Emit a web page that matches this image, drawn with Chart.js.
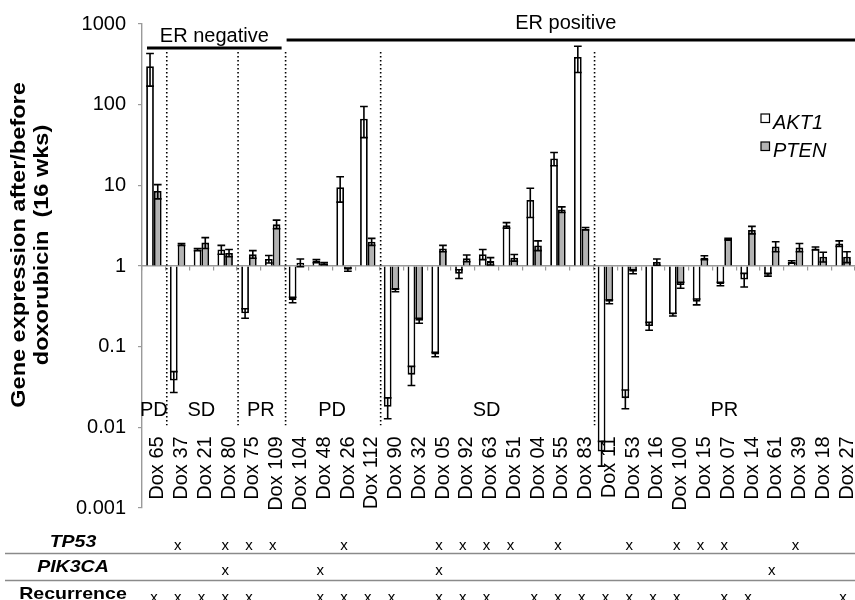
<!DOCTYPE html>
<html>
<head>
<meta charset="utf-8">
<script src="https://cdn.jsdelivr.net/npm/chart.js@4.4.1/dist/chart.umd.min.js"></script>
<style>
  html, body { margin: 0; padding: 0; background: #fff; }
  #wrap { width: 855px; height: 600px; position: relative; }
</style>
</head>
<body>
<div id="wrap"><canvas id="c" width="855" height="600"></canvas></div>
<script>
// Patients (tumour samples)
const categories = ['Dox 65','Dox 37','Dox 21','Dox 80','Dox 75','Dox 109','Dox 104','Dox 48','Dox 26','Dox 112',
  'Dox 90','Dox 32','Dox 05','Dox 92','Dox 63','Dox 51','Dox 04','Dox 55','Dox 83','Dox 11',
  'Dox 53','Dox 16','Dox 100','Dox 15','Dox 07','Dox 14','Dox 61','Dox 39','Dox 18','Dox 27'];

// Expression ratio after/before doxorubicin, with error
const akt1    = [300, 0.038, 1.6, 1.6, 0.26, 1.22, 0.38, 1.15, 9.5, 67, 0.018, 0.045, 0.08, 0.8, 1.4, 3.2, 6.6, 21.5, 390, 0.005,
  0.023, 0.18, 0.25, 0.36, 0.6, 0.68, 0.78, 1.12, 1.65, 1.9];
const akt1Err = [130, 0.011, 0.05, 0.2, 0.035, 0.13, 0.03, 0.05, 3.3, 28, 0.0052, 0.012, 0.005, 0.1, 0.2, 0.25, 2.6, 4, 140, 0.0017,
  0.006, 0.02, 0.01, 0.03, 0.03, 0.13, 0.03, 0.04, 0.07, 0.15];
const pten    = [8.5, 1.85, 1.95, 1.45, 1.4, 3.3, 1.1, 1.07, 0.9, 2.0, 0.5, 0.21, 1.65, 1.25, 1.15, 1.27, 1.8, 5.0, 2.9, 0.36,
  0.85, 1.12, 0.58, 1.27, 2.15, 2.8, 1.75, 1.7, 1.3, 1.3];
const ptenErr = [1.7, 0.05, 0.3, 0.15, 0.15, 0.4, 0.12, 0.03, 0.04, 0.2, 0.02, 0.015, 0.15, 0.12, 0.12, 0.12, 0.25, 0.4, 0.1, 0.02,
  0.05, 0.1, 0.05, 0.07, 0.05, 0.3, 0.25, 0.2, 0.18, 0.2];

// Value axis
const yTickValues = [1000, 100, 10, 1, 0.1, 0.01, 0.001];
const yTickLabels = ['1000', '100', '10', '1', '0.1', '0.01', '0.001'];
const yTitle = ['Gene expression after/before', 'doxorubicin  (16 wks)'];

// Clinical response groups (first/last sample index)
const responseLabels = ['PD', 'SD', 'PR', 'PD', 'SD', 'PR'];
const responseStart  = [0, 1, 4, 6, 10, 19];
const responseEnd    = [0, 3, 5, 9, 18, 29];

// Oestrogen receptor status
const erLabels = ['ER negative', 'ER positive'];
const erStart  = [0, 6];
const erEnd    = [5, 29];

// Mutation / outcome table (1 = present)
const rowLabels = ['TP53', 'PIK3CA', 'Recurrence'];
const tp53       = [0,1,0,1,1,1,0,0,1,0, 0,0,1,1,1,1,0,1,0,0, 1,0,1,1,1,0,0,1,0,0];
const pik3ca     = [0,0,0,1,0,0,0,1,0,0, 0,0,1,0,0,0,0,0,0,0, 0,0,0,0,0,0,1,0,0,0];
const recurrence = [1,1,1,1,1,0,0,1,1,1, 1,0,1,1,1,0,1,1,1,1, 1,1,1,0,1,1,0,0,0,1];

const FONT = '"Liberation Sans", Arial, Helvetica, sans-serif';
const GREY_AXIS = '#9a9a9a';

// Draws error bars, group annotations, category labels, legend, axis title and the table below the plot
const annotations = {
  id: 'annotations',
  afterDatasetsDraw(chart) {
    const { ctx } = chart;
    const y = chart.scales.y;
    chart.data.datasets.forEach((ds, di) => {
      const meta = chart.getDatasetMeta(di);
      meta.data.forEach((bar, i) => {
        const v = ds.data[i], e = ds.errors[i];
        const yHi = y.getPixelForValue(v + e);
        const yLo = y.getPixelForValue(v - e);
        const half = bar.width / 2;
        ctx.save();
        ctx.strokeStyle = '#000';
        ctx.lineWidth = 1.6;
        ctx.beginPath();
        ctx.moveTo(bar.x, yHi); ctx.lineTo(bar.x, yLo);
        ctx.moveTo(bar.x - half, yHi); ctx.lineTo(bar.x + half, yHi);
        ctx.moveTo(bar.x - half, yLo); ctx.lineTo(bar.x + half, yLo);
        ctx.stroke();
        ctx.restore();
      });
    });
  },
  afterDraw(chart) {
    const { ctx, chartArea: ca } = chart;
    const x = chart.scales.x, y = chart.scales.y;
    const step = x.getPixelForValue(1) - x.getPixelForValue(0);
    const cx = i => x.getPixelForValue(i);
    ctx.save();

    // dotted separators between response groups
    ctx.strokeStyle = '#000';
    ctx.lineWidth = 1.6;
    ctx.setLineDash([1.6, 2.4]);
    const dotTop = ca.top + 28, dotBottom = y.getPixelForValue(0.01) - 2;
    responseEnd.slice(0, -1).forEach(end => {
      const px = (cx(end) + cx(end + 1)) / 2 + 1;
      ctx.beginPath(); ctx.moveTo(px, dotTop); ctx.lineTo(px, dotBottom); ctx.stroke();
    });
    ctx.setLineDash([]);

    // response group labels
    ctx.fillStyle = '#000';
    ctx.font = `20px ${FONT}`;
    ctx.textAlign = 'center';
    ctx.textBaseline = 'alphabetic';
    responseLabels.forEach((lab, k) => {
      const mid = (cx(responseStart[k]) + cx(responseEnd[k])) / 2;
      ctx.fillText(lab, mid, y.getPixelForValue(0.01) - 11);
    });

    // ER status bars and labels
    const erLineY = [ca.top + 24, ca.top + 16];
    const erTextY = [ca.top + 17.5, ca.top + 5];
    const erInset = [[5, 3], [2, 0]];
    erLabels.forEach((lab, k) => {
      const x0 = cx(erStart[k]) - step / 2 + erInset[k][0];
      const x1 = Math.min(cx(erEnd[k]) + step / 2 - erInset[k][1], ca.right);
      ctx.lineWidth = 3;
      ctx.beginPath(); ctx.moveTo(x0, erLineY[k]); ctx.lineTo(x1, erLineY[k]); ctx.stroke();
      ctx.fillText(lab, (x0 + x1) / 2 - (k === 1 ? 5 : 0), erTextY[k]);
    });

    // category labels, rotated, end-aligned near the 0.01 line
    const labTop = y.getPixelForValue(0.01) + 9;
    ctx.font = `20px ${FONT}`;
    ctx.textAlign = 'right';
    ctx.textBaseline = 'alphabetic';
    categories.forEach((c, i) => {
      ctx.save();
      ctx.translate(cx(i) + 9.5, labTop);
      ctx.rotate(-Math.PI / 2);
      ctx.fillText(c, 0, 0);
      ctx.restore();
    });

    // legend
    const lx = ca.right - 94, ly = [ca.top + 90, ca.top + 118];
    chart.data.datasets.forEach((ds, k) => {
      ctx.fillStyle = ds.backgroundColor;
      ctx.fillRect(lx, ly[k], 8.5, 8.5);
      ctx.strokeStyle = '#000';
      ctx.lineWidth = 1.2;
      ctx.strokeRect(lx, ly[k], 8.5, 8.5);
      ctx.fillStyle = '#000';
      ctx.font = `italic 20px ${FONT}`;
      ctx.textAlign = 'left';
      ctx.fillText(ds.label, lx + 12, ly[k] + 15);
    });

    // value axis title (two rotated lines)
    ctx.font = `bold 21px ${FONT}`;
    ctx.textAlign = 'center';
    ctx.textBaseline = 'middle';
    const tcy = (ca.top + ca.bottom) / 2 - 21;
    [19, 42].forEach((tx, k) => {
      ctx.save();
      ctx.translate(tx, tcy);
      ctx.rotate(-Math.PI / 2);
      ctx.scale(1.12, 1);
      ctx.fillText(yTitle[k], 0, 0);
      ctx.restore();
    });

    // table below the plot
    const rows = [tp53, pik3ca, recurrence];
    const rowBase = [547, 572, 599];
    const rowItalic = [true, true, false];
    rows.forEach((marks, r) => {
      ctx.save();
      ctx.font = `${rowItalic[r] ? 'italic ' : ''}bold 17px ${FONT}`;
      ctx.textAlign = 'center';
      ctx.textBaseline = 'alphabetic';
      ctx.translate(73, rowBase[r]);
      ctx.scale(1.15, 1);
      ctx.fillText(rowLabels[r], 0, 0);
      ctx.restore();
      ctx.font = `15px ${FONT}`;
      ctx.textAlign = 'center';
      marks.forEach((m, i) => { if (m) ctx.fillText('x', cx(i), rowBase[r] - 1); });
    });
    ctx.strokeStyle = '#8a8a8a';
    ctx.lineWidth = 1.5;
    [553.5, 580.5].forEach(ly2 => {
      ctx.beginPath(); ctx.moveTo(5, ly2); ctx.lineTo(chart.width, ly2); ctx.stroke();
    });

    ctx.restore();
  }
};

new Chart(document.getElementById('c'), {
  type: 'bar',
  data: {
    labels: categories,
    datasets: [
      { label: 'AKT1', data: akt1, errors: akt1Err, base: 1,
        backgroundColor: '#ffffff', borderColor: '#000', borderWidth: 1.8,
        categoryPercentage: 0.65, barPercentage: 1.0 },
      { label: 'PTEN', data: pten, errors: ptenErr, base: 1,
        backgroundColor: '#b3b3b3', borderColor: '#000', borderWidth: 1.8,
        categoryPercentage: 0.65, barPercentage: 1.0 }
    ]
  },
  options: {
    responsive: false,
    animation: false,
    devicePixelRatio: 1,
    layout: { padding: { top: 22, bottom: 92, left: 0, right: 0 } },
    plugins: { legend: { display: false }, tooltip: { enabled: false } },
    scales: {
      x: { type: 'category', display: false, offset: true },
      xBase: {
        type: 'category', position: { y: 1 }, offset: true,
        ticks: { display: false },
        grid: { offset: true, drawOnChartArea: false, tickLength: 4, color: GREY_AXIS, lineWidth: 1.2 },
        border: { color: GREY_AXIS, width: 1.4 }
      },
      y: {
        type: 'logarithmic', min: 0.001, max: 1000,
        afterBuildTicks: s => { s.ticks = yTickValues.map(v => ({ value: v })); },
        afterFit: s => { s.width = 142; },
        ticks: {
          autoSkip: false, padding: 12, color: '#000',
          font: { size: 20, family: FONT },
          callback: v => {
            const k = yTickValues.findIndex(t => Math.abs(Math.log10(t) - Math.log10(v)) < 1e-6);
            return k >= 0 ? yTickLabels[k] : '';
          }
        },
        grid: { drawOnChartArea: false, tickLength: 4, color: GREY_AXIS, lineWidth: 1.2 },
        border: { color: GREY_AXIS, width: 1.4 }
      }
    }
  },
  plugins: [annotations]
});
</script>
</body>
</html>
